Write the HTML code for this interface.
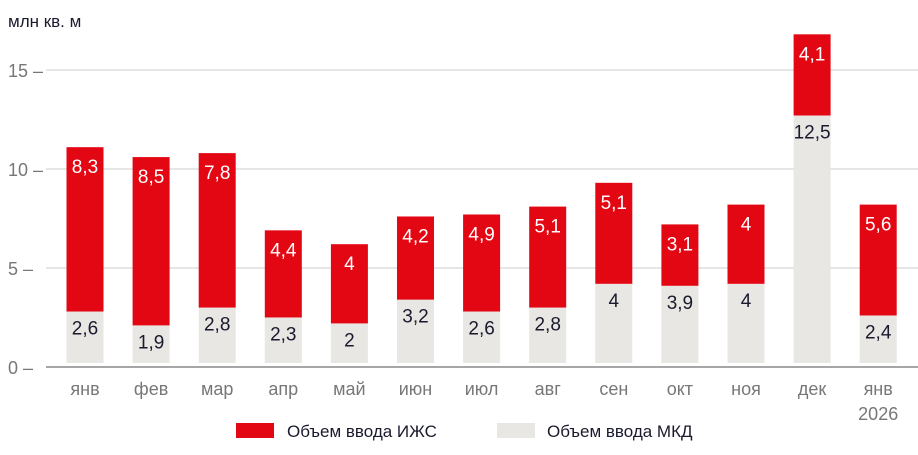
<!DOCTYPE html>
<html><head><meta charset="utf-8"><style>
body{margin:0;background:#fff;font-family:"Liberation Sans",sans-serif}
svg text{font-family:"Liberation Sans",sans-serif}
</style></head><body>
<svg width="918" height="450" id="c">
<text x="8" y="27" font-size="17" fill="#1a1a2e">млн кв. м</text>
<g id="grid"></g><g id="bars"></g><g id="xl"></g>
<g>
<rect x="236" y="423" width="38" height="15" fill="#e30613"/>
<text x="287" y="437" font-size="17" fill="#1a1a2e">Объем ввода ИЖС</text>
<rect x="497" y="423" width="38" height="15" fill="#e8e7e3"/>
<text x="547" y="437" font-size="17" fill="#1a1a2e">Объем ввода МКД</text>
</g>
</svg>
<script>
const categories=["янв","фев","мар","апр","май","июн","июл","авг","сен","окт","ноя","дек","янв"];
const mkd=[2.6,1.9,2.8,2.3,2,3.2,2.6,2.8,4,3.9,4,12.5,2.4];
const izhs=[8.3,8.5,7.8,4.4,4,4.2,4.9,5.1,5.1,3.1,4,4.1,5.6];
const yTicks=[0,5,10,15];
const NS="http://www.w3.org/2000/svg";
const y0=367,ppu=19.8,base=363;
const yAx=v=>y0-v*ppu;
const xAx=i=>85+i*66.1;
function mk(t,a,p){const e=document.createElementNS(NS,t);for(const k in a)e.setAttribute(k,a[k]);p.appendChild(e);return e;}
const g=document.getElementById('grid'),b=document.getElementById('bars'),xl=document.getElementById('xl');
yTicks.forEach(v=>{
 const l=mk('line',{x1:46,x2:918,y1:yAx(v),y2:yAx(v),stroke:v?'#e6e6e6':'#888','stroke-width':v?2:1.5},g);
 
 
 const t=mk('text',{x:8,y:yAx(v)+7,'font-size':18,fill:'#777'},g);t.textContent=v+' –';
 
 
});
const fmt=v=>String(v).replace('.',',');
categories.forEach((c,i)=>{
 const x=xAx(i)-18.5,w=37;
 const mt=base-mkd[i]*ppu,it=mt-izhs[i]*ppu;
 const r1=mk('rect',{x:x,y:mt,width:w,height:base-mt,fill:'#e8e7e3'},b);
 
 
 const r2=mk('rect',{x:x,y:it,width:w,height:mt-it,fill:'#e30613'},b);
 
 
 const t1=mk('text',{x:xAx(i),y:mt+23,'font-size':19,fill:'#1a1a2e','text-anchor':'middle'},b);t1.textContent=fmt(mkd[i]);
 
 
 const t2=mk('text',{x:xAx(i),y:it+26,'font-size':19,fill:'#fff','text-anchor':'middle'},b);t2.textContent=fmt(izhs[i]);
 
 
 const t3=mk('text',{x:xAx(i),y:395,'font-size':18,fill:'#777','text-anchor':'middle'},xl);t3.textContent=c;
 
 
});
const yr=mk('text',{x:xAx(12),y:420,'font-size':18,fill:'#777','text-anchor':'middle'},xl);yr.textContent='2026';


</script>
</body></html>
